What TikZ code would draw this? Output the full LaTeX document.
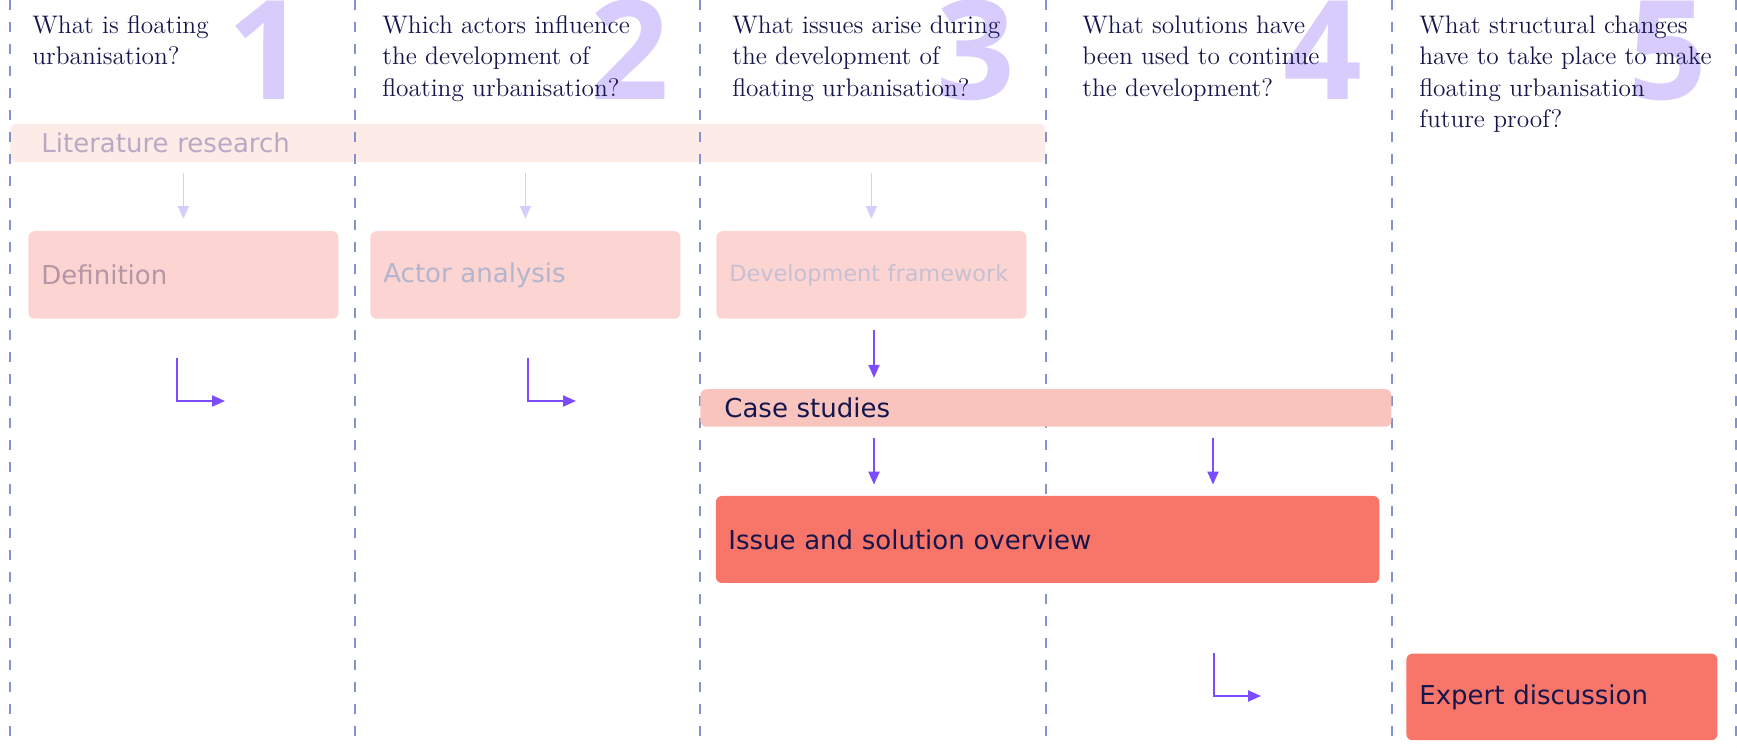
\documentclass[tikz,border=0pt]{standalone}
\usepackage{fontspec}
\newfontfamily\boxfont{DejaVu Sans}
\newfontfamily\numfont{Open Sans}
\usetikzlibrary{arrows.meta,positioning}

\definecolor{navy}{HTML}{15164B}
\definecolor{colline}{HTML}{8391CF}
\definecolor{numlila}{HTML}{D8CCFD}
\definecolor{litfill}{HTML}{FDEBE8}
\definecolor{littext}{HTML}{B9A9C4}
\definecolor{pinkfill}{HTML}{FCD5D2}
\definecolor{deftext}{HTML}{B596A5}
\definecolor{actortext}{HTML}{B3B5CF}
\definecolor{fwtext}{HTML}{C7BFD2}
\definecolor{casefill}{HTML}{F9C4BE}
\definecolor{redfill}{HTML}{F8756A}
\definecolor{lightarr}{HTML}{D6CCFF}
\definecolor{darkarr}{HTML}{7B4DFF}

\tikzset{
  colsep/.style={draw=colline, line width=0.75pt, dash pattern=on 5pt off 6pt},
  bignum/.style={anchor=base east, inner sep=0pt, text=numlila, font=\numfont\bfseries\fontsize{69}{69}\selectfont},
  quest/.style={anchor=north west, inner sep=0pt, align=left, text=navy, font=\fontsize{12.7}{15.75}\selectfont},
  box/.style={anchor=west, rounded corners=3pt, inner xsep=6.5pt, inner ysep=0pt, align=left, text=navy, font=\boxfont\fontsize{13}{15}\selectfont},
  litarrow/.style={draw=lightarr, line width=0.9pt, -{Triangle[length=6.5pt,width=5.5pt]}, shorten <=5.5pt, shorten >=6pt},
  steparrow/.style={draw=darkarr, line width=1pt, -{Triangle[length=6.5pt,width=5.5pt]}, shorten <=5.5pt, shorten >=5.5pt},
  turnarrow/.style={draw=darkarr, line width=1pt, -{Triangle[length=6.5pt,width=5.5pt]}}
}

\begin{document}
\begin{tikzpicture}[x=0.5pt,y=-0.5pt]
\useasboundingbox (0,0) rectangle (1737,748);

% literature band lies under the column lines
\node[box, fill=litfill, text=littext, inner xsep=15.5pt, text width=486.5pt, minimum height=19pt] (lit) at (10,143) {Literature research};

\foreach \x in {10,355,700,1046,1392,1736}
  \draw[colsep] (\x,0) -- (\x,748);

% numbers and questions
\node[bignum] (n1) at (307,100) {1};
\node[bignum] (n2) at (670,100) {2};
\node[bignum] (n3) at (1016,100) {3};
\node[bignum] (n4) at (1363,100) {4};
\node[bignum] (n5) at (1708,100) {5};

\node[quest] (q1) at (32,15) {What is floating\\urbanisation?};
\node[quest] (q2) at (382,15) {Which actors influence\\the development of\\floating urbanisation?};
\node[quest] (q3) at (732,15) {What issues arise during\\the development of\\floating urbanisation?};
\node[quest] (q4) at (1082,15) {What solutions have\\been used to continue\\the development?};
\node[quest] (q5) at (1419,15) {What structural changes\\have to take place to make\\floating urbanisation\\future proof?};

% boxes
\node[box, fill=pinkfill, text=deftext, text width=142pt, minimum height=43.75pt] (def) at (28,275) {Definition};
\node[box, fill=pinkfill, text=actortext, text width=142pt, minimum height=43.75pt] (actor) at (370,275) {Actor analysis};
\node[box, fill=pinkfill, text=fwtext, text width=142pt, minimum height=43.75pt, font=\boxfont\fontsize{11.2}{13}\selectfont] (devfw) at (716,275) {Development framework};
\node[box, fill=casefill, inner xsep=12pt, text width=321.5pt, minimum height=18.75pt] (case) at (700,408) {Case studies};
\node[box, fill=redfill, inner xsep=6.25pt, text width=319.25pt, minimum height=43.5pt] (issue) at (715.5,539.5) {Issue and solution overview};
\node[box, fill=redfill, text width=142.5pt, minimum height=43.25pt] (expert) at (1406,697) {Expert discussion};

% arrows
\draw[litarrow] (lit.south -| def.north) -- (def.north);
\draw[litarrow] (lit.south -| actor.north) -- (actor.north);
\draw[litarrow] (lit.south -| devfw.north) -- (devfw.north);

\coordinate (c3) at (874,0);
\coordinate (c4) at (1213,0);
\draw[steparrow] (devfw.south -| c3) -- (case.north -| c3);
\draw[steparrow] (case.south -| c3) -- (issue.north -| c3);
\draw[steparrow] (case.south -| c4) -- (issue.north -| c4);

\coordinate (l1) at (177,358);
\coordinate (l2) at (528,358);
\coordinate (l4) at (1214,653);
\draw[turnarrow] (l1) |- ++(48,43);
\draw[turnarrow] (l2) |- ++(48,43);
\draw[turnarrow] (l4) |- ++(47,43);
\end{tikzpicture}
\end{document}
